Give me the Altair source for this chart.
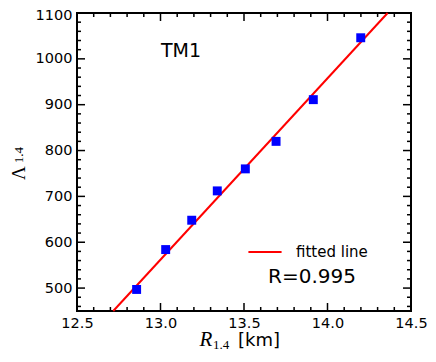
import altair as alt
import pandas as pd

# data
radius = [12.857, 13.031, 13.187, 13.340, 13.508, 13.692, 13.915, 14.199]
tidal = [497, 584, 648, 712, 760, 820, 911, 1046]
fit_x = [12.717, 14.360]
fit_y = [450, 1100]
fit_label = ["fitted line", "fitted line"]

x_major = [12.5, 13.0, 13.5, 14.0, 14.5]
x_minor = [12.6, 12.7, 12.8, 12.9, 13.1, 13.2, 13.3, 13.4, 13.6, 13.7, 13.8, 13.9, 14.1, 14.2, 14.3, 14.4]
y_major = [500, 600, 700, 800, 900, 1000, 1100]
y_minor = [460, 480, 520, 540, 560, 580, 620, 640, 660, 680, 720, 740, 760, 780,
           820, 840, 860, 880, 920, 940, 960, 980, 1020, 1040, 1060, 1080]

W, H = 334, 298
FONT = "DejaVu Sans"

xs = alt.Scale(domain=[12.5, 14.5], nice=False, zero=False)
ys = alt.Scale(domain=[450, 1100], nice=False, zero=False)

xaxis = alt.Axis(values=x_major, format=".1f", ticks=False, domain=False, grid=False,
                 labelFont=FONT, labelFontSize=14.5, labelColor="black", labelPadding=5,
                 title=None, labelFlush=False)
yaxis = alt.Axis(values=y_major, format="d", ticks=False, domain=False, grid=False,
                 labelFont=FONT, labelFontSize=14.5, labelColor="black", labelPadding=5,
                 title=None, labelFlush=False,
                 labelOffset=alt.ExprRef("datum.value == 1100 ? 2 : 0"))

pts_df = pd.DataFrame({"r": radius, "lam": tidal})
fit_df = pd.DataFrame({"r": fit_x, "lam": fit_y, "label": fit_label})

points = alt.Chart(pts_df).mark_square(size=80, color="#0000ff", opacity=1).encode(
    x=alt.X("r:Q", scale=xs, axis=xaxis),
    y=alt.Y("lam:Q", scale=ys, axis=yaxis),
)

line = alt.Chart(fit_df).mark_line(strokeWidth=2).encode(
    x=alt.X("r:Q", scale=xs),
    y=alt.Y("lam:Q", scale=ys),
    color=alt.Color("label:N", scale=alt.Scale(range=["#ff0000"]),
                    legend=alt.Legend(orient="none", legendX=170, legendY=221, title=None,
                                      symbolType="stroke", symbolSize=1100, symbolStrokeWidth=2,
                                      labelFont=FONT, labelFontSize=15, labelColor="black",
                                      labelOffset=13, padding=0)),
)

def xticks(vals, length):
    df = pd.DataFrame({"v": vals})
    bot = alt.Chart(df).mark_rule(color="black", strokeWidth=1.5).encode(
        x=alt.X("v:Q", scale=xs), y=alt.value(H), y2=alt.value(H - length))
    top = alt.Chart(df).mark_rule(color="black", strokeWidth=1.5).encode(
        x=alt.X("v:Q", scale=xs), y=alt.value(0), y2=alt.value(length))
    return bot + top

def yticks(vals, length):
    df = pd.DataFrame({"v": vals})
    left = alt.Chart(df).mark_rule(color="black", strokeWidth=1.5).encode(
        y=alt.Y("v:Q", scale=ys), x=alt.value(0), x2=alt.value(length))
    right = alt.Chart(df).mark_rule(color="black", strokeWidth=1.5).encode(
        y=alt.Y("v:Q", scale=ys), x=alt.value(W), x2=alt.value(W - length))
    return left + right

def txt(s, x, y, font=FONT, size=18, style="normal", align="left", angle=0):
    return alt.Chart(pd.DataFrame({"t": [s]})).mark_text(
        font=font, fontSize=size, fontStyle=style, align=align, baseline="middle",
        angle=angle, color="black").encode(text="t:N", x=alt.value(x), y=alt.value(y))

annotations = (
    txt("TM1", 104, 38, size=19, align="center")
    + txt("R=0.995", 191, 264, size=20)
    + txt("R", 129, 327, font="Liberation Serif", size=21, style="italic", align="center")
    + txt("1.4", 144, 332, font="Liberation Serif", size=13, align="center")
    + txt("[km]", 161, 328, size=18)
    + txt("Λ", -58, 160, font="Liberation Serif", size=19, align="center", angle=270)
    + txt("1.4", -58, 142, font="Liberation Serif", size=13, align="center", angle=270)
)

chart = alt.layer(
    xticks(x_minor, 4), xticks(x_major, 8), yticks(y_minor, 4), yticks(y_major, 8),
    line, points, annotations,
).properties(
    width=W, height=H,
    autosize=alt.AutoSizeParams(type="none"),
    padding={"left": 69, "top": 5, "right": 17, "bottom": 43},
    background="white",
).configure_view(stroke="black", strokeWidth=2)

chart.save("out.html", embed_options={"renderer": "svg", "actions": False})
